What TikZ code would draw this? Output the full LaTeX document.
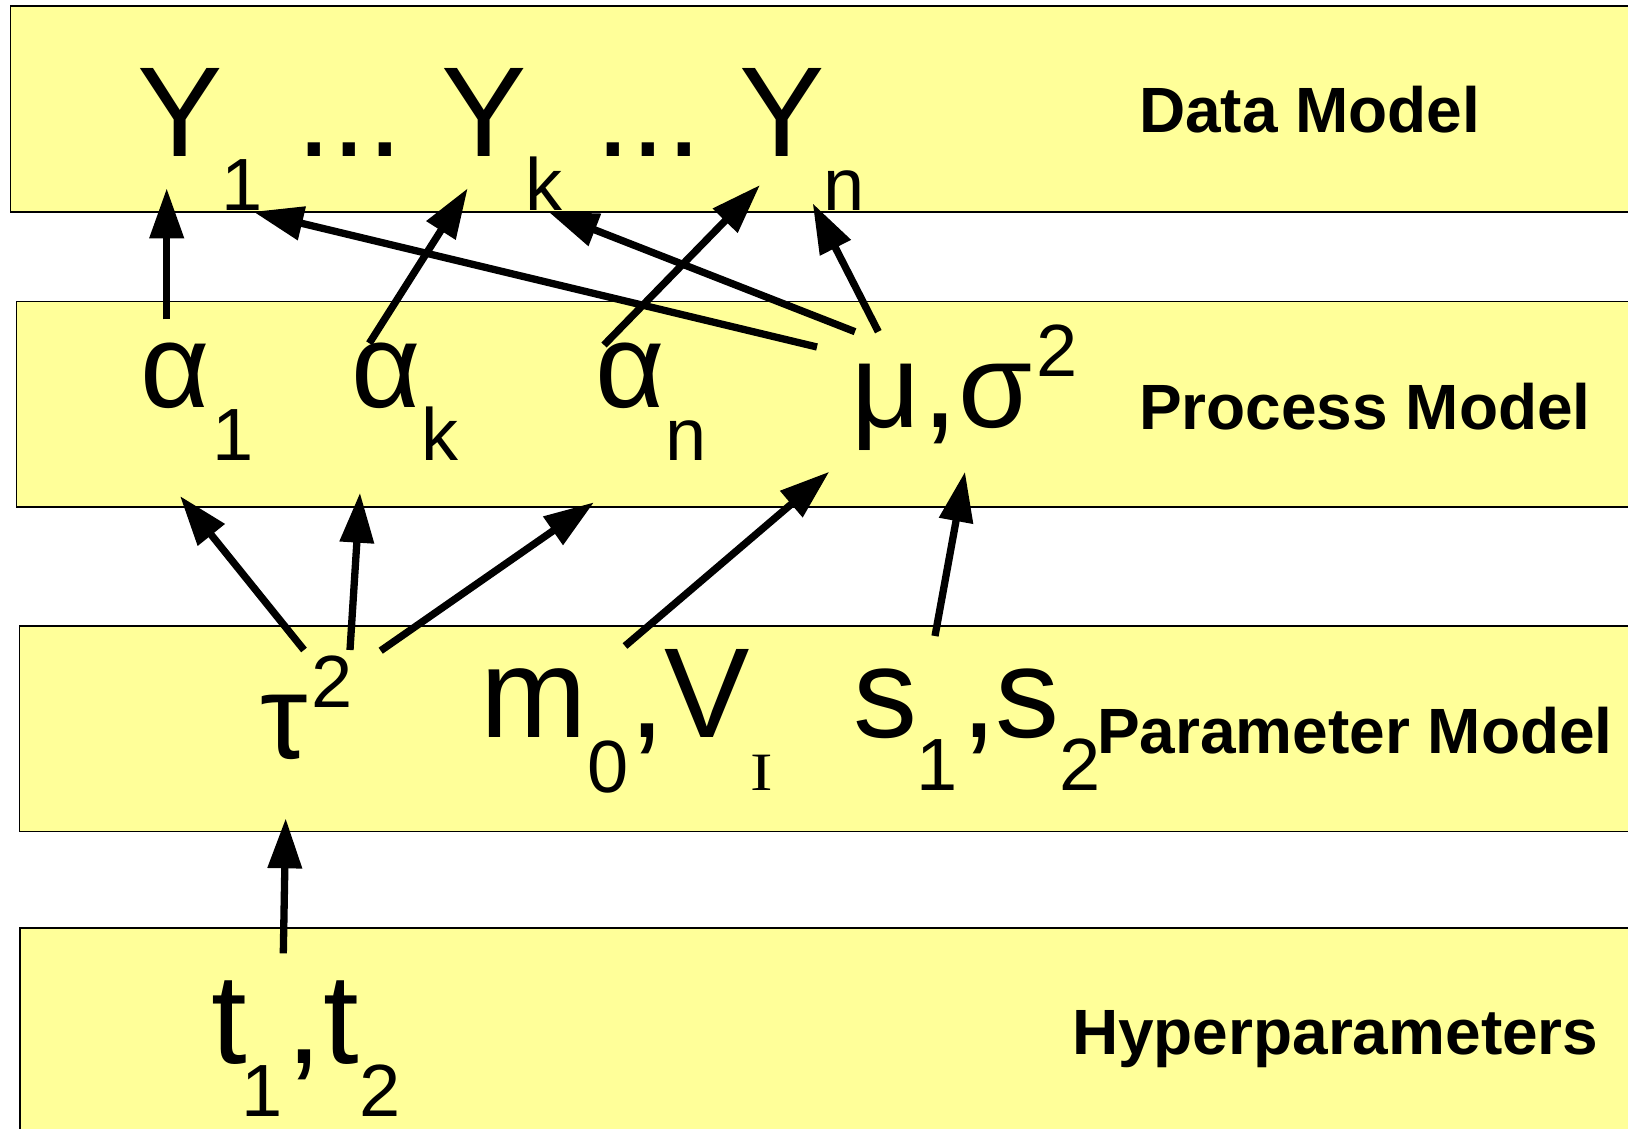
\documentclass[tikz,border=0pt]{standalone}
\usepackage{fontspec}
\setmainfont{Liberation Sans}
\newfontfamily\romI{Liberation Serif}
\usetikzlibrary{arrows.meta}
\definecolor{bandfill}{HTML}{FFFF99}
\newcommand\fMain{\fontsize{128pt}{128pt}\selectfont}
\newcommand\fGreek{\fontsize{120pt}{120pt}\selectfont}
\newcommand\fSub{\fontsize{74pt}{74pt}\selectfont}
\newcommand\fLab{\fontsize{64pt}{64pt}\selectfont\bfseries}
\begin{document}
\begin{tikzpicture}[x=1pt,y=-1pt,
  band/.style={fill=bandfill, draw=black, line width=1.5pt},
  txt/.style={inner sep=0pt, outer sep=0pt, anchor=base west},
  arr/.style={line width=7.3pt, -{Triangle[length=50pt,width=33pt]}}]
\useasboundingbox (0,0) rectangle (1628,1129);
\clip (0,0) rectangle (1628,1129);
% bands
\draw[band] (10.4,6) rectangle (1650,212);
\draw[band] (16.6,301.7) rectangle (1650,507);
\draw[band] (19.7,626) rectangle (1650,831.7);
\draw[band] (20,928) rectangle (1650,1150);
% Data model
\node[txt] (Y1) at (137,157) {\fMain Y};
\node[txt] (Y1s) at (221,210) {\fSub 1};
\node[txt] (dots1) at (296,157) {\fMain ...};
\node[txt] (Yk) at (441,157) {\fMain Y};
\node[txt] (Yks) at (525,210) {\fSub k};
\node[txt] (dots2) at (595,157) {\fMain ...};
\node[txt] (Yn) at (739,157) {\fMain Y};
\node[txt] (Yns) at (823,210) {\fSub n};
\node[txt] (lData) at (1139,133) {\fLab Data Model};
% Process model
\node[txt] (al1) at (140,407) {\fGreek α};
\node[txt] (al1s) at (212,460) {\fSub 1};
\node[txt] (alk) at (351,407) {\fGreek α};
\node[txt] (alks) at (421,460) {\fSub k};
\node[txt] (aln) at (595,407) {\fGreek α};
\node[txt] (alns) at (665,460) {\fSub n};
\node[txt] (mu) at (851,427) {\fGreek μ};
\node[txt] (muc) at (922,427) {\fMain ,};
\node[txt] (sig) at (958,427) {\fGreek σ};
\node[txt] (sigs) at (1036,376) {\fSub 2};
\node[txt] (lProc) at (1139,429) {\fLab Process Model};
% Parameter model
\node[txt] (tau) at (260,758) {\fGreek τ};
\node[txt] (taus) at (311,707) {\fSub 2};
\node[txt] (m0) at (480,737) {\fMain m};
\node[txt] (m0s) at (587,792) {\fSub 0};
\node[txt] (mvc) at (629,737) {\fMain ,};
\node[txt] (VI) at (664,737) {\fMain V};
\node[txt] (VIs) at (750,790) {\romI\fontsize{54pt}{54pt}\selectfont\scalebox{1.25}[1]{I}};
\node[txt] (s1) at (853,737) {\fMain s};
\node[txt] (s1s) at (916,790) {\fSub 1};
\node[txt] (ssc) at (961,737) {\fMain ,};
\node[txt] (s2) at (995,737) {\fMain s};
\node[txt] (s2s) at (1059,790) {\fSub 2};
\node[txt] (lPar) at (1097,753) {\fLab Parameter Model};
% Hyperparameters
\node[txt] (t1) at (211,1063) {\fMain t};
\node[txt] (t1s) at (241,1116) {\fSub 1};
\node[txt] (ttc) at (286,1063) {\fMain ,};
\node[txt] (t2) at (323,1063) {\fMain t};
\node[txt] (t2s) at (359,1116) {\fSub 2};
\node[txt] (lHyp) at (1072,1054) {\fLab Hyperparameters};
% connector end points
\coordinate (c1a) at (166.7,319.3); \coordinate (c1b) at (166.7,188.3);
\coordinate (c2a) at (369.3,343.3); \coordinate (c2b) at (467.7,188.3);
\coordinate (c3a) at (604,345);     \coordinate (c3b) at (760,185);
\coordinate (c4a) at (817,347);     \coordinate (c4b) at (253.3,211.7);
\coordinate (c5a) at (855,331.7);   \coordinate (c5b) at (548.3,211.7);
\coordinate (c6a) at (878.3,331.7); \coordinate (c6b) at (812.7,203.3);
\coordinate (c7a) at (304,650);     \coordinate (c7b) at (180,496);
\coordinate (c8a) at (350,650);     \coordinate (c8b) at (360,492.7);
\coordinate (c9a) at (380.7,650.7); \coordinate (c9b) at (594,502.3);
\coordinate (c10a) at (625,646);    \coordinate (c10b) at (829.3,471.7);
\coordinate (c11a) at (935,636);    \coordinate (c11b) at (965,471.7);
\coordinate (c12a) at (283.3,953.3);\coordinate (c12b) at (285.7,818.3);
\foreach \i in {1,...,12} {\draw[arr] (c\i a) -- (c\i b);}
\end{tikzpicture}
\end{document}
